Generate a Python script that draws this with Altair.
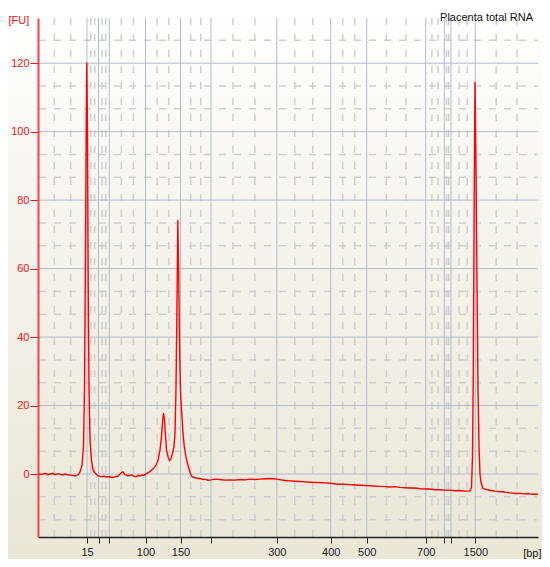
import altair as alt
import pandas as pd

# Electropherogram trace: migration time (s) and fluorescence (FU)
time_s = [20.0, 20.4, 20.7, 21.0, 21.2, 21.5, 21.7, 22.0, 22.2, 22.5, 22.7, 23.0, 23.2, 23.5, 23.7, 24.0,
          24.2, 24.4, 24.55, 24.65, 24.75, 24.83, 24.88, 24.95, 25.02, 25.1, 25.2, 25.35, 25.5, 25.7,
          26.0, 26.2, 26.4, 26.6, 26.8, 27.0, 27.2, 27.4, 27.6, 27.8, 28.0, 28.2, 28.3, 28.5, 28.7,
          28.85, 29.0, 29.2, 29.4, 29.6, 29.8, 30.0, 30.2, 30.4, 30.6, 30.9, 31.2, 31.5, 31.8, 32.0,
          32.2, 32.35, 32.45, 32.55, 32.65, 32.75, 32.85, 33.0, 33.15, 33.3, 33.45, 33.6, 33.7, 33.8,
          33.9, 33.98, 34.06, 34.15, 34.25, 34.37, 34.5, 34.63, 34.8, 35.0, 35.2, 35.4, 35.7, 36.0,
          36.2, 36.5, 36.7, 37.0, 37.3, 37.7, 38.2, 38.7, 39.2, 39.7, 40.2, 40.7, 41.2, 41.7, 42.2,
          42.7, 43.2, 43.9, 44.3, 44.7, 45.2, 45.7, 46.2, 46.7, 47.2, 47.7, 48.2, 48.7, 49.3, 49.8,
          50.2, 50.7, 51.2, 51.7, 52.2, 52.9, 53.5, 54.2, 54.7, 55.2, 55.7, 56.2, 56.7, 57.2, 57.7,
          58.2, 58.8, 59.2, 59.7, 60.2, 60.7, 61.2, 61.7, 62.2, 62.7, 63.0, 63.2, 63.35, 63.45, 63.53,
          63.62, 63.7, 63.8, 63.9, 64.0, 64.1, 64.2, 64.3, 64.5, 64.8, 65.0, 65.2, 65.5, 65.7, 66.0,
          66.2, 66.5, 66.7, 67.0, 67.2, 67.5, 67.7, 68.0, 68.2, 68.5, 68.7, 69.0, 69.2, 69.5, 69.7, 70.0]
fu = [0.1, -0.1, 0.2, -0.2, 0.0, 0.2, -0.2, 0.1, -0.1, -0.3, 0.0, -0.2, -0.3, -0.4, -0.6, -0.3,
      0.6, 2.5, 8.0, 25.0, 65.0, 105.0, 120.2, 100.0, 55.0, 25.0, 10.0, 4.0, 1.2, 0.3,
      -0.5, -0.7, -0.8, -0.6, -0.9, -0.8, -0.8, -1.0, -0.9, -0.7, -0.6, -0.1, 0.3, 0.6, -0.2,
      -0.3, -0.6, -0.4, -0.3, -0.7, -0.8, -0.4, -0.6, -0.3, -0.4, 0.2, 0.7, 1.5, 2.5, 4.0,
      7.0, 11.0, 15.0, 17.8, 16.0, 11.0, 7.0, 5.0, 3.9, 4.5, 6.0, 8.0, 12.0, 25.0,
      50.0, 74.2, 60.0, 38.0, 24.0, 18.0, 12.0, 8.0, 5.0, 2.5, 0.5, -0.8, -1.1, -1.3,
      -1.3, -1.6, -1.5, -1.8, -1.7, -1.5, -1.6, -1.8, -1.7, -1.8, -1.6, -1.7, -1.5, -1.6, -1.5,
      -1.4, -1.3, -1.5, -1.7, -1.9, -2.0, -2.1, -2.2, -2.3, -2.4, -2.5, -2.5, -2.6, -2.7, -2.9,
      -3.0, -3.0, -3.1, -3.2, -3.3, -3.4, -3.5, -3.6, -3.7, -3.8, -3.7, -3.9, -4.0, -4.1, -4.1,
      -4.3, -4.4, -4.4, -4.6, -4.6, -4.7, -4.7, -4.9, -4.8, -5.0, -5.0, -4.9, -4.0, 5.0, 30.0,
      80.0, 114.5, 90.0, 55.0, 25.0, 8.0, 0.0, -2.5, -4.2, -4.5, -4.6, -4.8, -4.9, -5.0, -5.1,
      -5.2, -5.2, -5.3, -5.4, -5.5, -5.6, -5.7, -5.7, -5.6, -5.8, -5.8, -5.7, -5.8, -5.9, -5.9, -5.9]

# Ladder ticks on the time axis and their size labels (bp)
tick_times = [24.9, 26.05, 27.13, 30.75, 34.25, 37.3, 43.88, 49.27, 52.87, 58.77, 60.63, 61.3, 63.73]
tick_labels = ["15", "", "", "100", "150", "", "300", "400", "500", "700", "", "", "1500"]
fu_ticks = [0, 20, 40, 60, 80, 100, 120]

X_DOMAIN = [20, 70]
Y_DOMAIN = [-18.4, 133.2]
sample_name = "Placenta total RNA"

FONT = "Liberation Sans"
W, H = 500, 519
PAD = {"left": 30, "top": 10, "right": 4, "bottom": 22}

trace = pd.DataFrame({"t": time_s, "fu": fu})

# grid helpers derived from the tick lists
bounds = [X_DOMAIN[0]] + tick_times + [X_DOMAIN[1]]
minor_t = []
for a, b in zip(bounds[:-1], bounds[1:]):
    minor_t += [a + (b - a) / 3, a + 2 * (b - a) / 3]
minor_fu = []
for k in range(-20, 140, 20):
    for f in (20 / 3, 40 / 3):
        v = k + f
        if Y_DOMAIN[0] < v < Y_DOMAIN[1]:
            minor_fu.append(v)

label_expr = ""
for t, lab in zip(tick_times, tick_labels):
    label_expr += f"datum.value == {t} ? '{lab}' : "
label_expr += "''"

xscale = alt.Scale(domain=X_DOMAIN, nice=False, zero=False)
yscale = alt.Scale(domain=Y_DOMAIN, nice=False, zero=False)

xaxis = alt.Axis(values=tick_times, labelExpr=label_expr, grid=False, title="[bp]",
                 titleX=W + PAD["right"] - 1, titleY=16, titleAlign="right", titleBaseline="middle",
                 titleAngle=0,
                 titleFontWeight="normal", titleFontSize=11, titleFont=FONT, titleColor="#222",
                 labelFont=FONT, labelFontSize=11, labelColor="#222", labelPadding=3,
                 labelOverlap=False, labelFlush=False,
                 tickColor="#222", tickSize=6, domainColor="#222", domainWidth=1.5, zindex=1)
yaxis = alt.Axis(values=fu_ticks, grid=False, title="[FU]",
                 titleX=-30, titleY=2, titleAlign="left", titleBaseline="middle", titleAngle=0,
                 titleFontWeight="normal", titleFontSize=11, titleFont=FONT, titleColor="#f01010",
                 labelFont=FONT, labelFontSize=11, labelColor="#f01010", labelPadding=1,
                 tickColor="#f01010", tickSize=8, domainColor="#ff4040", domainWidth=2, zindex=1)


def X(field):
    return alt.X(field, type="quantitative", scale=xscale, axis=xaxis)


def Y(field):
    return alt.Y(field, type="quantitative", scale=yscale, axis=yaxis)


bg = alt.Chart(alt.Data(values=[{"k": 1}])).mark_rect(
    fill=alt.LinearGradient(gradient="linear", x1=0, x2=0, y1=0, y2=1,
                            stops=[alt.GradientStop(color="#ffffff", offset=0),
                                   alt.GradientStop(color="#f6f5f0", offset=0.35),
                                   alt.GradientStop(color="#eae7d7", offset=1)])
).encode(x=alt.value(-PAD["left"]), x2=alt.value(W + PAD["right"]),
         y=alt.value(-PAD["top"]), y2=alt.value(H + PAD["bottom"]))

minor_v = alt.Chart(pd.DataFrame({"t": minor_t})).mark_rule(
    color="#cfcfcf", strokeWidth=1.5, strokeDash=[7, 9]).encode(x=X("t"))
minor_h = alt.Chart(pd.DataFrame({"fu": minor_fu})).mark_rule(
    color="#cfcfcf", strokeWidth=1.5, strokeDash=[7, 8], strokeDashOffset=3).encode(y=Y("fu"))
major_v = alt.Chart(pd.DataFrame({"t": tick_times})).mark_rule(
    color="#b3bccd", strokeWidth=1).encode(x=X("t"))
major_h = alt.Chart(pd.DataFrame({"fu": fu_ticks})).mark_rule(
    color="#b3bccd", strokeWidth=1).encode(y=Y("fu"))

line = alt.Chart(trace).mark_line(color="#ff0000", strokeWidth=1.4, clip=True).encode(
    x=X("t"), y=Y("fu"))

label = alt.Chart(alt.Data(values=[{"name": sample_name}])).mark_text(
    align="right", baseline="middle", font=FONT, fontSize=11, color="#111"
).encode(x=alt.value(W - 5), y=alt.value(0), text="name:N")

chart = alt.layer(bg, minor_v, minor_h, major_v, major_h, line, label).properties(
    width=W, height=H,
    autosize=alt.AutoSizeParams(type="none"),
    padding=PAD,
).configure_view(stroke=None)

chart.save("out.html", embed_options={"renderer": "svg", "actions": False})
